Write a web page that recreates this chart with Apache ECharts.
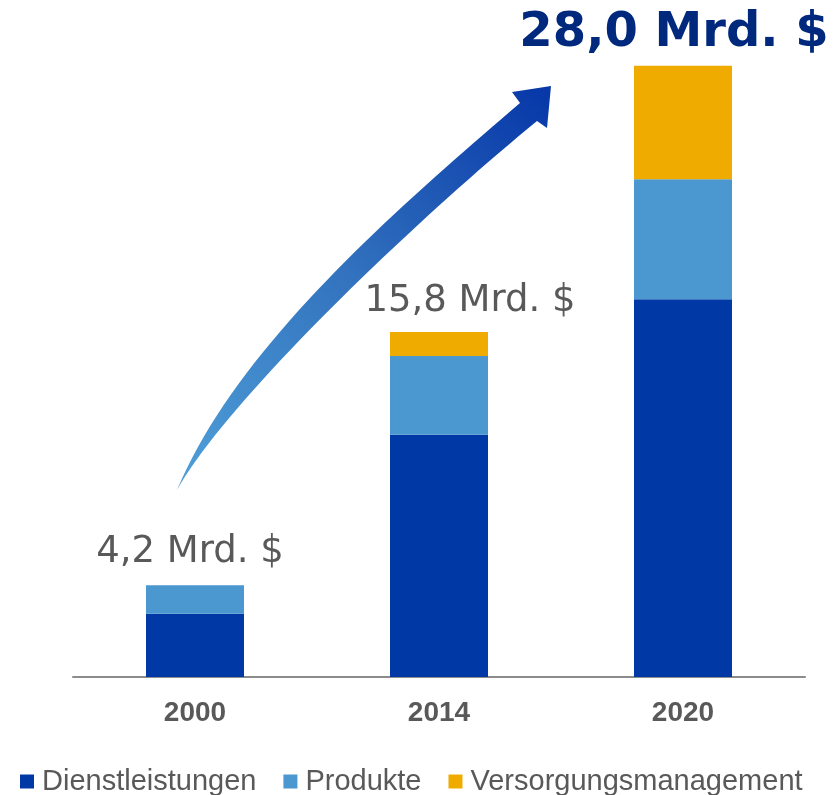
<!DOCTYPE html>
<html>
<head>
<meta charset="utf-8">
<script src="https://cdn.jsdelivr.net/npm/echarts@6/dist/echarts.min.js"></script>
<style>
  html, body { margin: 0; padding: 0; background: #fff; }
  #marktChart { width: 837px; height: 795px; }
</style>
</head>
<body>
<div id="marktChart"></div>
<script>
  // Jahre und Segmente (Mrd. $)
  var jahre = ['2000', '2014', '2020'];
  var dienstleistungen = [2.9, 11.1, 17.3];
  var produkte = [1.3, 3.6, 5.5];
  var versorgung = [0, 1.1, 5.2];
  var gesamt = [4.2, 15.8, 28.0];

  var myChart = echarts.init(document.getElementById('marktChart'));

  function mrd(v) {
    return v.toFixed(1).replace('.', ',') + ' Mrd. $';
  }

  // cubic bezier sampled into points (for the arrow outline)
  function bezier(p0, p1, p2, p3, n) {
    var pts = [];
    for (var i = 0; i <= n; i++) {
      var t = i / n, u = 1 - t;
      pts.push([
        u*u*u*p0[0] + 3*u*u*t*p1[0] + 3*u*t*t*p2[0] + t*t*t*p3[0],
        u*u*u*p0[1] + 3*u*u*t*p1[1] + 3*u*t*t*p2[1] + t*t*t*p3[1]
      ]);
    }
    return pts;
  }

  var pfeil = []
    .concat(bezier([177, 490], [237, 346], [400, 206], [520, 103], 40))
    .concat([[512, 92], [551, 86], [547, 128]])
    .concat(bezier([537, 121], [417, 219], [227, 400], [177, 490], 40));

  // label offsets per year (text sits a bit off-center in the original)
  var labelStyle = [
    { offset: [-5, 0], distance: 14, fontSize: 37, color: '#595959', fontWeight: 'normal' },
    { offset: [31, 0], distance: 12, fontSize: 37, color: '#595959', fontWeight: 'normal' },
    { offset: [-9, 0], distance: 8, fontSize: 48, color: '#00287D', fontWeight: 'bold' }
  ];

  var summen = gesamt.map(function (v, i) {
    var s = labelStyle[i];
    return {
      value: v,
      label: {
        show: true,
        position: 'top',
        distance: s.distance,
        offset: s.offset,
        fontSize: s.fontSize,
        fontWeight: s.fontWeight,
        color: s.color,
        opacity: 1,
        fontFamily: 'DejaVu Sans',
        formatter: function (p) { return mrd(p.value); }
      }
    };
  });

  var option = {
    animation: false,
    backgroundColor: '#ffffff',
    grid: {
      left: 73,
      right: 32,
      top: 22,
      bottom: 118
    },
    legend: {
      data: ['Dienstleistungen', 'Produkte', 'Versorgungsmanagement'],
      left: 15,
      top: 762,
      icon: 'rect',
      itemWidth: 14,
      itemHeight: 14,
      itemGap: 27,
      textStyle: {
        fontFamily: 'Liberation Sans',
        fontSize: 29,
        color: '#595959',
        padding: [0, 0, 0, 3]
      }
    },
    xAxis: {
      type: 'category',
      data: jahre,
      axisTick: { show: false },
      axisLine: {
        lineStyle: { color: '#8C8C8C', width: 2 }
      },
      axisLabel: {
        margin: 22,
        fontFamily: 'Liberation Sans',
        fontSize: 28,
        fontWeight: 'bold',
        color: '#595959'
      }
    },
    yAxis: {
      type: 'value',
      min: 0,
      max: 30,
      show: false,
      splitLine: { show: false }
    },
    graphic: [
      {
        // growth arrow
        type: 'polygon',
        z: 10,
        shape: { points: pfeil },
        style: {
          fill: {
            type: 'linear',
            x: 0, y: 1, x2: 1, y2: 0,
            colorStops: [
              { offset: 0, color: '#4FA0D8' },
              { offset: 0.5, color: '#3272BE' },
              { offset: 1, color: '#0636A8' }
            ]
          }
        }
      }
    ],
    series: [
      {
        name: 'Dienstleistungen',
        type: 'bar',
        stack: 'markt',
        barWidth: 98,
        itemStyle: { color: '#0039A6' },
        data: dienstleistungen
      },
      {
        name: 'Produkte',
        type: 'bar',
        stack: 'markt',
        itemStyle: { color: '#4B97CF' },
        data: produkte
      },
      {
        name: 'Versorgungsmanagement',
        type: 'bar',
        stack: 'markt',
        itemStyle: { color: '#F0AB00' },
        data: versorgung
      },
      {
        name: 'Gesamt',
        type: 'scatter',
        symbolSize: 0,
        silent: true,
        itemStyle: { opacity: 1 },
        data: summen
      }
    ]
  };

  myChart.setOption(option);
</script>
</body>
</html>
